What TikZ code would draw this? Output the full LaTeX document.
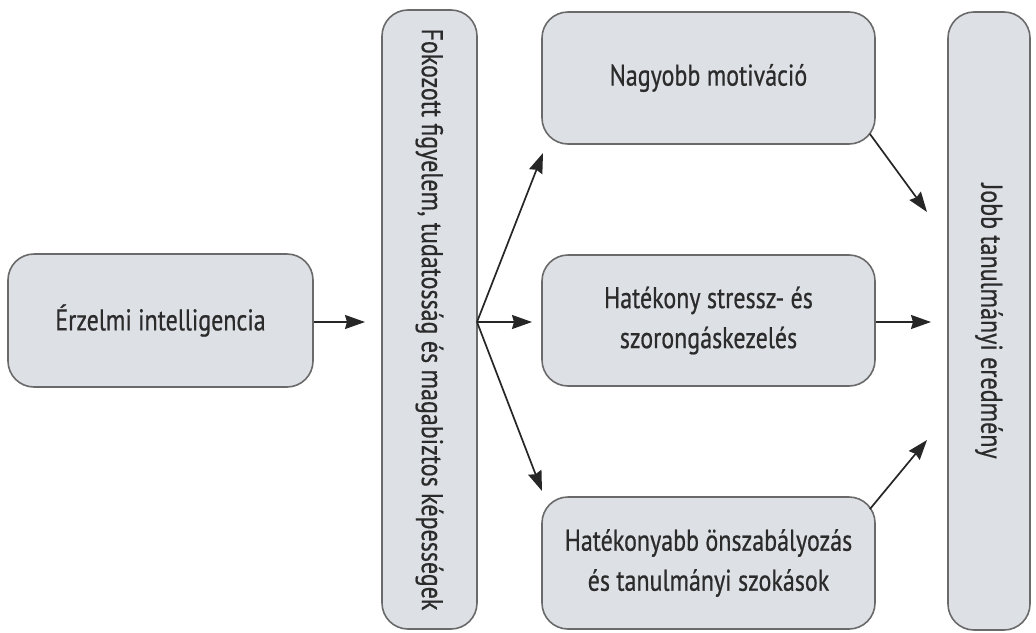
\documentclass[tikz,border=0pt]{standalone}
\usepackage{fontspec}
\setmainfont{PT Sans}[FakeStretch=0.8,FakeBold=0.6]
\usetikzlibrary{arrows.meta}
\definecolor{boxfill}{HTML}{DDE1E6}
\definecolor{boxline}{HTML}{6A6A6A}
\definecolor{txt}{HTML}{2B2B2B}
\definecolor{arr}{HTML}{262626}
\tikzset{
  lbl/.style={text=txt, font=\fontsize{30}{40}\selectfont, align=center},
  box/.style={draw=boxline, line width=1.6pt, fill=boxfill, rounded corners=26pt,
    lbl, inner sep=0pt},
  conn/.style={draw=arr, line width=1.7pt, -{Stealth[length=20pt,width=14pt,inset=2pt]}}
}
\begin{document}
\begin{tikzpicture}[x=1pt,y=-1pt]
\useasboundingbox (0,0) rectangle (1036,632);
\node[box, minimum width=305pt, minimum height=133pt] (ei) at (160.5,320.5) {Érzelmi intelligencia};
\node[box, minimum width=95pt, minimum height=619pt] (fok) at (429.5,319.5) {};
\node[lbl, rotate=-90] (foktxt) at (fok.center) {Fokozott figyelem, tudatosság és magabiztos képességek};
\node[box, minimum width=333pt, minimum height=132pt] (nm) at (708.5,78) {Nagyobb motiváció};
\node[box, minimum width=333pt, minimum height=131pt] (hs) at (708.5,320.5) {Hatékony stressz- és\\szorongáskezelés};
\node[box, minimum width=333pt, minimum height=132pt] (ho) at (708.5,563) {Hatékonyabb önszabályozás\\és tanulmányi szokások};
\node[box, minimum width=82pt, minimum height=618pt] (jobb) at (989,321) {};
\node[lbl, rotate=-90] (jobbtxt) at (jobb.center) {Jobb tanulmányi eredmény};
\coordinate (a1) at (365,322);
\coordinate (f) at (477,322);
\coordinate (t1) at (543,153);
\coordinate (t2) at (532,322);
\coordinate (t3) at (542,491);
\coordinate (r1) at (927,212);
\coordinate (r2) at (931,322);
\coordinate (r3) at (927,440);
\draw[conn] (ei.east |- f) -- (a1);
\draw[conn] (f) -- (t1);
\draw[conn] (f) -- (t2);
\draw[conn] (f) -- (t3);
\draw[conn] ([xshift=-6pt,yshift=11pt]nm.south east) -- (r1);
\draw[conn] (hs.east |- r2) -- (r2);
\draw[conn] ([xshift=-6pt,yshift=-13pt]ho.north east) -- (r3);
\end{tikzpicture}
\end{document}
